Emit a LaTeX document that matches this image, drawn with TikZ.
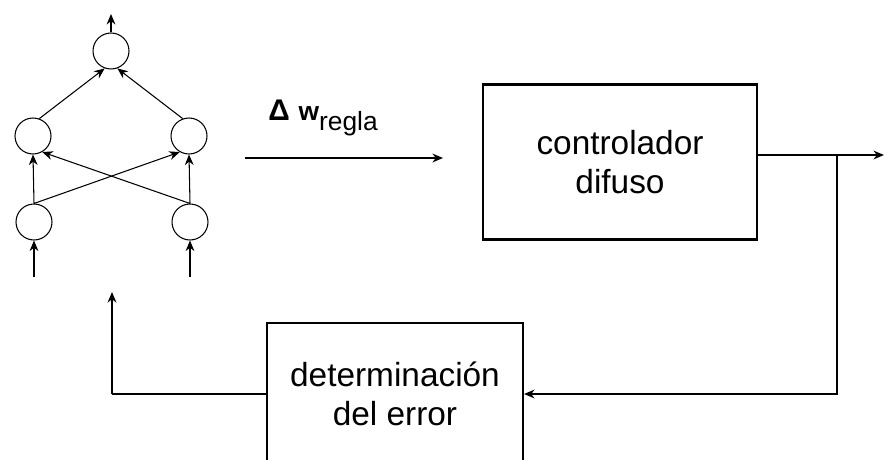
\documentclass[tikz,border=0pt]{standalone}
\usepackage{fontspec}
\setmainfont{Liberation Sans}
\usetikzlibrary{arrows.meta}

\begin{document}
\begin{tikzpicture}[x=0.02cm,y=-0.02cm,
    neurona/.style={circle,draw,line width=0.6pt,minimum size=0.72cm,inner sep=0pt},
    bloque/.style={draw,line width=1.2pt,align=center,font=\fontsize{19}{22}\selectfont},
    flecha/.style={-{Stealth[length=6pt,width=5pt]}},
    fina/.style={line width=0.6pt},
    delgada/.style={line width=0.9pt},
    gruesa/.style={line width=1.7pt}]
  \useasboundingbox (0,0) rectangle (884,459);
  \clip (0,0) rectangle (884,459);
  % red neuronal
  \node[neurona] (s) at (111,51) {};
  \foreach \n/\x in {1/33,2/189} {
      \node[neurona] (h\n) at (\x,136) {};
      \node[neurona] (e\n) at (\x+1,222) {};
      \coordinate (i\n) at (\x+1,277);
      \draw[fina,flecha] (i\n) -- (e\n.south);
      \draw[fina,flecha] (e\n.north) -- (h\n.south);
    }
  \coordinate (o) at (111,14);
  \draw[fina,flecha] (s.north) -- (o);
  \draw[fina,flecha] (e1.north) -- (h2.240);
  \draw[fina,flecha] (e2.north) -- (h1.300);
  \draw[fina,flecha] (h1.70) -- (s.250);
  \draw[fina,flecha] (h2.110) -- (s.290);

  % bloques
  \node[bloque,minimum width=5.48cm,minimum height=3.1cm] (ctrl) at (620,162) {controlador\\difuso};
  \node[bloque,minimum width=5.12cm,minimum height=2.84cm] (err) at (395,394) {determinación\\del error};

  % flecha de pesos
  \coordinate (a1) at (245,158);
  \coordinate (a2) at (443,158);
  \draw[gruesa,flecha] (a1) -- (a2);
  \node[anchor=base west,inner sep=0pt] (dw) at (268,121)
    {{\fontsize{17}{17}\selectfont\bfseries Δ}\hspace{5pt}{\fontsize{15}{15}\selectfont\bfseries w}\raisebox{-5.5pt}{\fontsize{15}{15}\selectfont regla}};

  % salida y realimentacion
  \coordinate (sal) at (884,155);
  \coordinate (rama) at (837,155);
  \draw[gruesa,flecha] (ctrl.east |- sal) -- (sal);
  \draw[delgada,flecha] (rama) |- (err.east);
  \coordinate (esq) at (112,394);
  \coordinate (fb) at (112,292);
  \draw[fina] (err.west) -- (esq);
  \draw[gruesa,flecha] (esq) -- (fb);
\end{tikzpicture}
\end{document}
